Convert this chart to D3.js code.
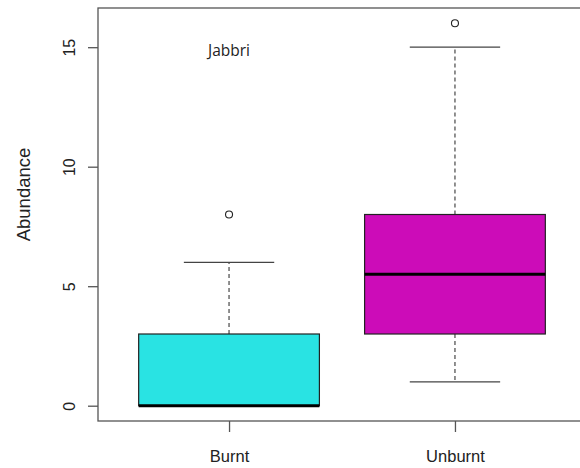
<!DOCTYPE html>
<html><head><meta charset="utf-8">
<script src="https://cdn.jsdelivr.net/npm/d3@7"></script>
<style>body{margin:0;background:#fff}svg{display:block}</style>
</head><body>
<script>
const categories = ["Burnt", "Unburnt"];
const lowerWhisker = [0, 1];
const q1 = [0, 3];
const medians = [0, 5.5];
const q3 = [3, 8];
const upperWhisker = [6, 15];
const outliers = [[8], [16]];
const fills = ["#29e3e3", "#cc0cb8"];
const yTicks = [0, 5, 10, 15];
const annotation = "Jabbri";

(function () {
const W = 580, H = 468;
const svg = d3.select("body").append("svg").attr("width", W).attr("height", H);
const pL = 98, pR = 586, pT = 8, pB = 421;

const x = d3.scaleLinear().domain([0.42, 2.58]).range([pL, pR]);
const y = d3.scaleLinear().domain([-0.64, 16.64]).range([pB, pT]);
const bw = 0.8, cw = 0.4;

const g = svg.append("g");
categories.forEach((c, i) => {
  const cx = i + 1;
  g.append("line").attr("x1", x(cx)).attr("x2", x(cx)).attr("y1", y(q3[i])).attr("y2", y(upperWhisker[i]))
    .attr("stroke", "#555").attr("stroke-width", 1.3).attr("stroke-dasharray", "4,3");
  g.append("line").attr("x1", x(cx)).attr("x2", x(cx)).attr("y1", y(q1[i])).attr("y2", y(lowerWhisker[i]))
    .attr("stroke", "#555").attr("stroke-width", 1.3).attr("stroke-dasharray", "4,3");
  [upperWhisker[i], lowerWhisker[i]].forEach(v => {
    g.append("line").attr("x1", x(cx - cw / 2)).attr("x2", x(cx + cw / 2)).attr("y1", y(v)).attr("y2", y(v))
      .attr("stroke", "#444").attr("stroke-width", 1.3);
  });
  g.append("rect").attr("x", x(cx - bw / 2)).attr("width", x(cx + bw / 2) - x(cx - bw / 2))
    .attr("y", y(q3[i])).attr("height", y(q1[i]) - y(q3[i]))
    .attr("fill", fills[i]).attr("stroke", "#222").attr("stroke-width", 1.2);
  g.append("line").attr("x1", x(cx - bw / 2)).attr("x2", x(cx + bw / 2)).attr("y1", y(medians[i])).attr("y2", y(medians[i]))
    .attr("stroke", "#000").attr("stroke-width", 3);
  outliers[i].forEach(v => {
    g.append("circle").attr("cx", x(cx)).attr("cy", y(v)).attr("r", 3.5)
      .attr("fill", "none").attr("stroke", "#222").attr("stroke-width", 1.1);
  });
});

svg.append("rect").attr("x", pL).attr("y", pT).attr("width", pR - pL).attr("height", pB - pT)
  .attr("fill", "none").attr("stroke", "#555").attr("stroke-width", 1.3);

const yAxis = svg.append("g").attr("transform", `translate(${pL},0)`)
  .call(d3.axisLeft(y).tickValues(yTicks).tickSize(10).tickPadding(0).tickFormat(d3.format("d")));
yAxis.select(".domain").remove();
yAxis.selectAll(".tick line").attr("stroke", "#555").attr("stroke-width", 1.3);
yAxis.selectAll(".tick text").attr("transform", "rotate(-90)").attr("x", 0).attr("y", -29)
  .attr("text-anchor", "middle").attr("dy", "0.35em")
  .style("font-family", "'Liberation Sans', Arial, sans-serif").style("font-size", "16px").attr("fill", "#222");

const xAxis = svg.append("g").attr("transform", `translate(0,${pB})`)
  .call(d3.axisBottom(x).tickValues([1, 2]).tickSize(11).tickPadding(18).tickFormat((d, i) => categories[i]));
xAxis.select(".domain").remove();
xAxis.selectAll(".tick line").attr("stroke", "#555").attr("stroke-width", 1.3);
xAxis.selectAll(".tick text").style("font-family", "'Liberation Sans', Arial, sans-serif").style("font-size", "16.5px").attr("fill", "#222");

svg.append("text").attr("transform", "translate(30,194.5) rotate(-90)").attr("text-anchor", "middle")
  .style("font-family", "'Liberation Sans', Arial, sans-serif").style("font-size", "18.5px").attr("fill", "#222")
  .text("Abundance");

svg.append("text").attr("x", 229).attr("y", 56).attr("text-anchor", "middle")
  .style("font-family", "'Open Sans', sans-serif").style("font-size", "15.5px").attr("fill", "#222")
  .text(annotation);
})();
</script>
</body></html>
